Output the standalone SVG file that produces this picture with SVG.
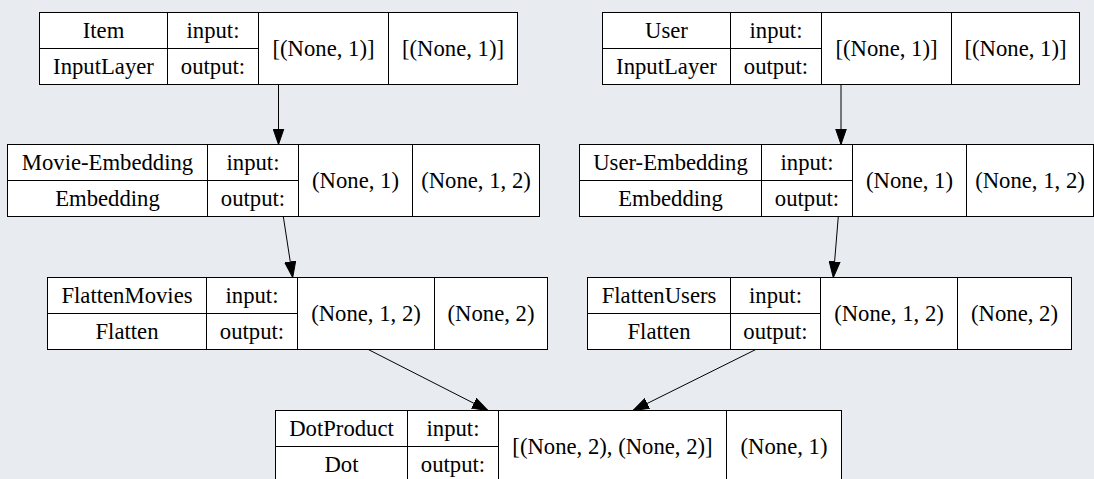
<svg xmlns="http://www.w3.org/2000/svg" width="1094" height="479" viewBox="0 0 1094 479">
<style>
.bg{fill:#e8ecf0}
.box{fill:#ffffff;stroke:#000000;stroke-width:1}
.ln{stroke:#000000;stroke-width:1;fill:none}
.t{font-family:'Liberation Serif','Times New Roman',Times,serif;font-size:22.7px;fill:#000000;text-anchor:middle}
.edge{stroke:#000000;stroke-width:1;fill:none;marker-end:url(#arrow)}
</style>
<defs>
<marker id="arrow" markerUnits="userSpaceOnUse" markerWidth="17" markerHeight="12" refX="16" refY="6" orient="auto" viewBox="0 0 17 12">
<path d="M0,0.5 L16,6 L0,11.5 Z" fill="#000000" stroke="#000000" stroke-width="1"/>
</marker>
</defs>
<rect class="bg" x="0" y="0" width="1094" height="479"/>

<g id="connectors">
<line class="edge" x1="278.5" y1="84.5" x2="278.5" y2="144.5"/>
<line class="edge" x1="841" y1="84.5" x2="841" y2="144.5"/>
<line class="edge" x1="283.3" y1="216.5" x2="292.7" y2="277.5"/>
<line class="edge" x1="838.3" y1="216.5" x2="833.3" y2="277.5"/>
<line class="edge" x1="368.3" y1="349.5" x2="488" y2="410.5"/>
<line class="edge" x1="755.8" y1="349.5" x2="633" y2="410.5"/>
</g>

<g id="item">
<rect class="box" x="39.5" y="12.5" width="478" height="72"/>
<path class="ln" d="M167.5,12.5V84.5M258.5,12.5V84.5M388.5,12.5V84.5M39.5,48.5H258.5"/>
<text class="t" x="103.5" y="38">Item</text>
<text class="t" x="103.5" y="74">InputLayer</text>
<text class="t" x="213" y="38">input:</text>
<text class="t" x="213" y="74">output:</text>
<text class="t" x="323.5" y="56">[(None, 1)]</text>
<text class="t" x="453" y="56">[(None, 1)]</text>
</g>

<g id="user">
<rect class="box" x="602.5" y="12.5" width="477" height="72"/>
<path class="ln" d="M730.5,12.5V84.5M821.5,12.5V84.5M951.5,12.5V84.5M602.5,48.5H821.5"/>
<text class="t" x="666.5" y="38">User</text>
<text class="t" x="666.5" y="74">InputLayer</text>
<text class="t" x="776" y="38">input:</text>
<text class="t" x="776" y="74">output:</text>
<text class="t" x="886.5" y="56">[(None, 1)]</text>
<text class="t" x="1015.5" y="56">[(None, 1)]</text>
</g>

<g id="movie-embedding">
<rect class="box" x="7.5" y="144.5" width="532" height="72"/>
<path class="ln" d="M207.5,144.5V216.5M298.5,144.5V216.5M412.5,144.5V216.5M7.5,180.5H298.5"/>
<text class="t" x="107.5" y="170">Movie-Embedding</text>
<text class="t" x="107.5" y="206">Embedding</text>
<text class="t" x="253" y="170">input:</text>
<text class="t" x="253" y="206">output:</text>
<text class="t" x="355.5" y="188">(None, 1)</text>
<text class="t" x="476" y="188">(None, 1, 2)</text>
</g>

<g id="user-embedding">
<rect class="box" x="579.5" y="144.5" width="514" height="72"/>
<path class="ln" d="M761.5,144.5V216.5M852.5,144.5V216.5M966.5,144.5V216.5M579.5,180.5H852.5"/>
<text class="t" x="670.5" y="170">User-Embedding</text>
<text class="t" x="670.5" y="206">Embedding</text>
<text class="t" x="807" y="170">input:</text>
<text class="t" x="807" y="206">output:</text>
<text class="t" x="909.5" y="188">(None, 1)</text>
<text class="t" x="1030" y="188">(None, 1, 2)</text>
</g>

<g id="flatten-movies">
<rect class="box" x="47.5" y="277.5" width="500" height="72"/>
<path class="ln" d="M206.5,277.5V349.5M297.5,277.5V349.5M434.5,277.5V349.5M47.5,313.5H297.5"/>
<text class="t" x="127" y="303">FlattenMovies</text>
<text class="t" x="127" y="339">Flatten</text>
<text class="t" x="252" y="303">input:</text>
<text class="t" x="252" y="339">output:</text>
<text class="t" x="366" y="321">(None, 1, 2)</text>
<text class="t" x="491" y="321">(None, 2)</text>
</g>

<g id="flatten-users">
<rect class="box" x="587.5" y="277.5" width="484" height="72"/>
<path class="ln" d="M730.5,277.5V349.5M820.5,277.5V349.5M957.5,277.5V349.5M587.5,313.5H820.5"/>
<text class="t" x="659" y="303">FlattenUsers</text>
<text class="t" x="659" y="339">Flatten</text>
<text class="t" x="775.5" y="303">input:</text>
<text class="t" x="775.5" y="339">output:</text>
<text class="t" x="889" y="321">(None, 1, 2)</text>
<text class="t" x="1014.5" y="321">(None, 2)</text>
</g>

<g id="dot-product">
<rect class="box" x="275.5" y="410.5" width="566" height="72"/>
<path class="ln" d="M407.5,410.5V482.5M498.5,410.5V482.5M726.5,410.5V482.5M275.5,446.5H498.5"/>
<text class="t" x="341.5" y="436">DotProduct</text>
<text class="t" x="341.5" y="472">Dot</text>
<text class="t" x="453" y="436">input:</text>
<text class="t" x="453" y="472">output:</text>
<text class="t" x="612.5" y="454">[(None, 2), (None, 2)]</text>
<text class="t" x="784" y="454">(None, 1)</text>
</g>
</svg>
